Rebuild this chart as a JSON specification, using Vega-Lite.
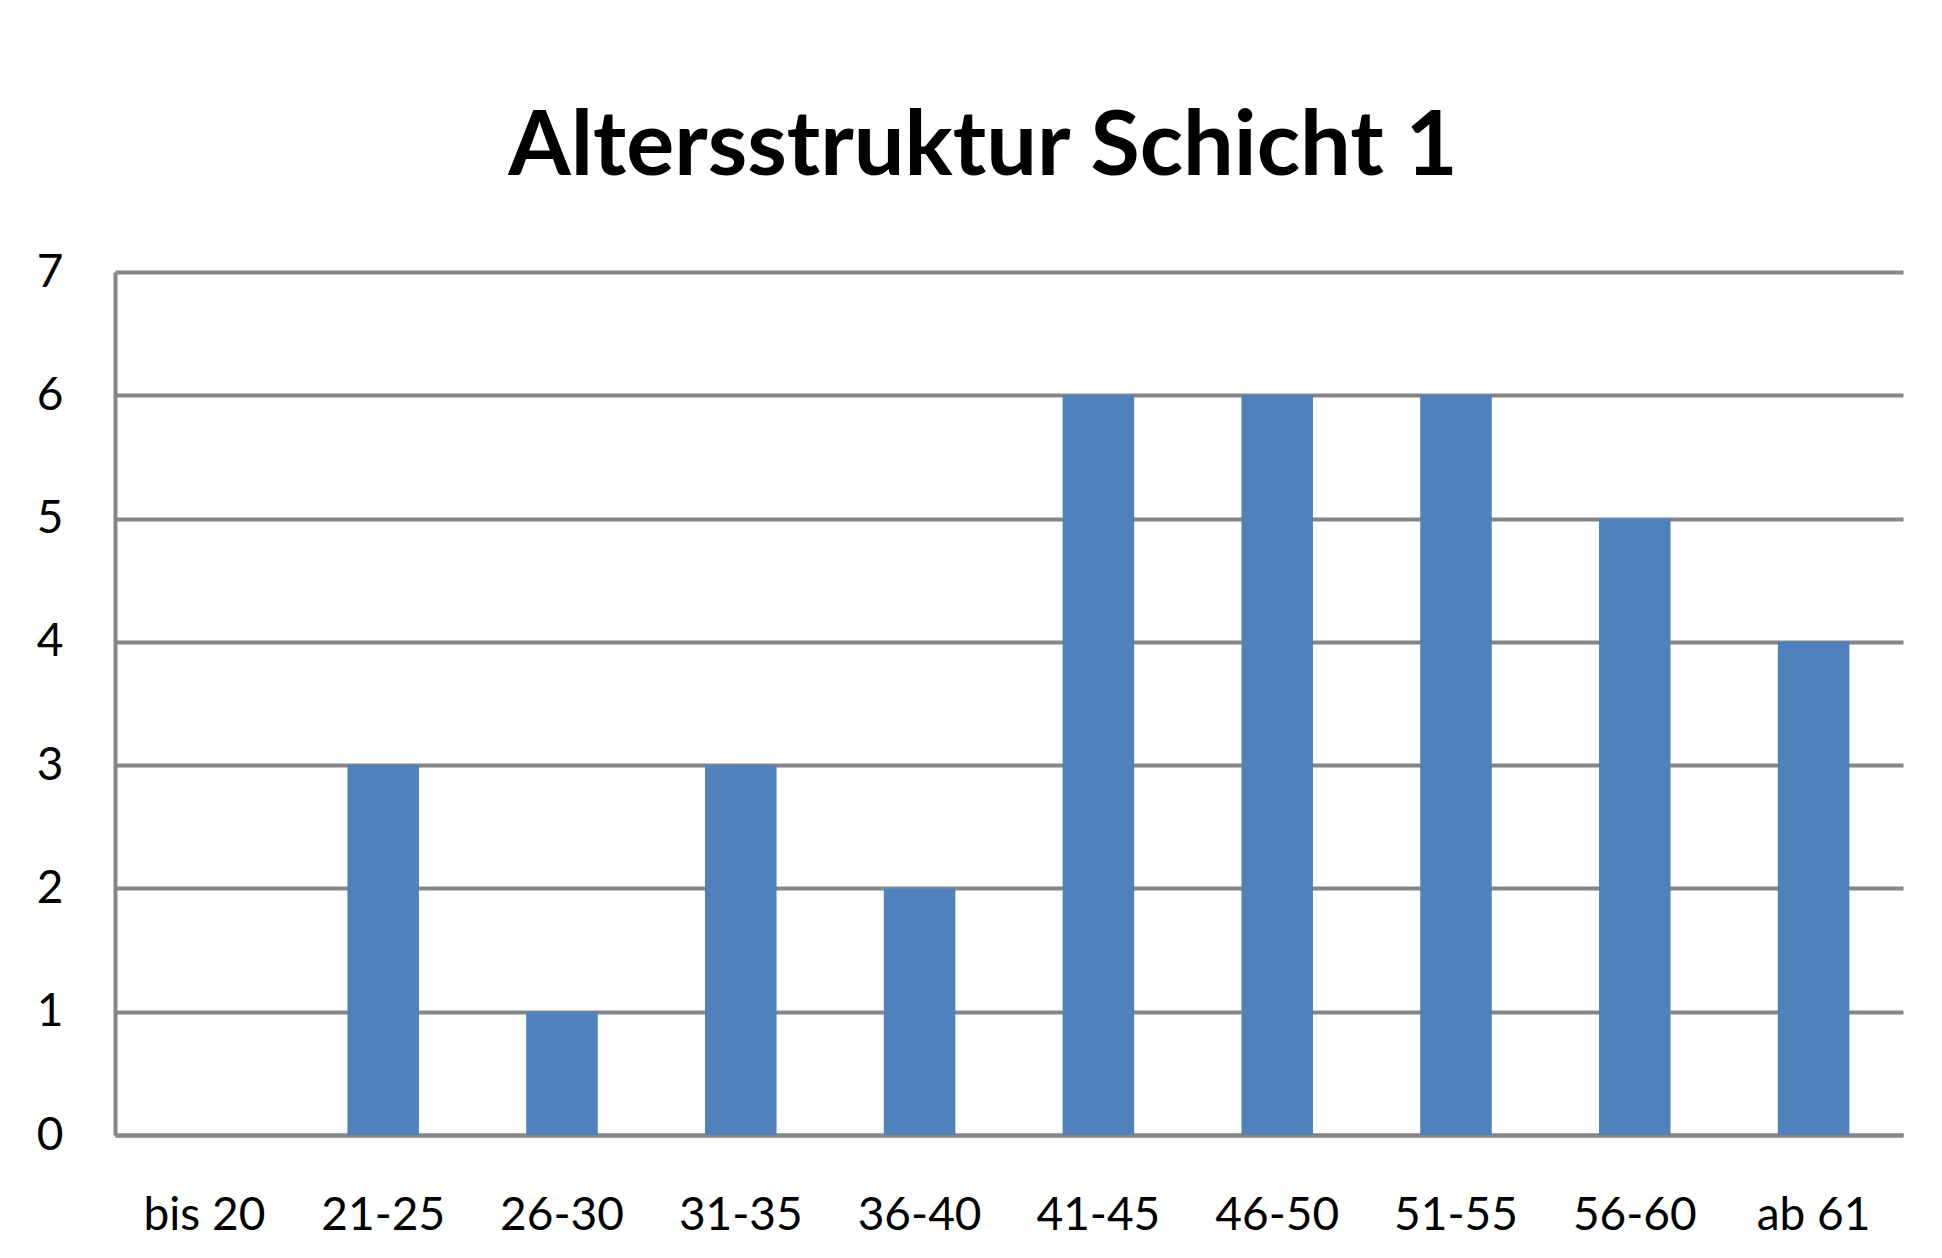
{
  "$schema": "https://vega.github.io/schema/vega-lite/v6.json",
  "width": 1788,
  "height": 863,
  "autosize": {"type": "none"},
  "padding": {"left": 115, "top": 272, "right": 39, "bottom": 123},
  "background": "white",
  "title": {
    "text": "Altersstruktur Schicht 1",
    "font": "Lato",
    "fontSize": 90,
    "fontWeight": "bold",
    "color": "black",
    "anchor": "middle",
    "frame": "group",
    "dx": -26,
    "baseline": "alphabetic",
    "offset": -16
  },
  "data": {
    "values": [
      {"Alter": "bis 20", "Anzahl": 0},
      {"Alter": "21-25", "Anzahl": 3},
      {"Alter": "26-30", "Anzahl": 1},
      {"Alter": "31-35", "Anzahl": 3},
      {"Alter": "36-40", "Anzahl": 2},
      {"Alter": "41-45", "Anzahl": 6},
      {"Alter": "46-50", "Anzahl": 6},
      {"Alter": "51-55", "Anzahl": 6},
      {"Alter": "56-60", "Anzahl": 5},
      {"Alter": "ab 61", "Anzahl": 4}
    ]
  },
  "mark": {"type": "bar", "color": "#4F81BD"},
  "encoding": {
    "x": {
      "field": "Alter",
      "type": "nominal",
      "sort": null,
      "scale": {"paddingInner": 0.6, "paddingOuter": 0.3},
      "axis": {
        "title": null,
        "labelAngle": 0,
        "ticks": false,
        "domainColor": "#868686",
        "domainWidth": 4,
        "labelFont": "Lato",
        "labelFontSize": 46,
        "labelColor": "black",
        "labelPadding": 58
      }
    },
    "y": {
      "field": "Anzahl",
      "type": "quantitative",
      "scale": {"domain": [0, 7], "nice": false},
      "axis": {
        "title": null,
        "values": [0, 1, 2, 3, 4, 5, 6, 7],
        "ticks": false,
        "grid": true,
        "gridColor": "#868686",
        "gridWidth": 4,
        "gridOpacity": 1,
        "domainColor": "#868686",
        "domainWidth": 4,
        "labelFont": "Lato",
        "labelFontSize": 46,
        "labelColor": "black",
        "labelPadding": 52
      }
    }
  },
  "config": {"view": {"stroke": null}}
}
